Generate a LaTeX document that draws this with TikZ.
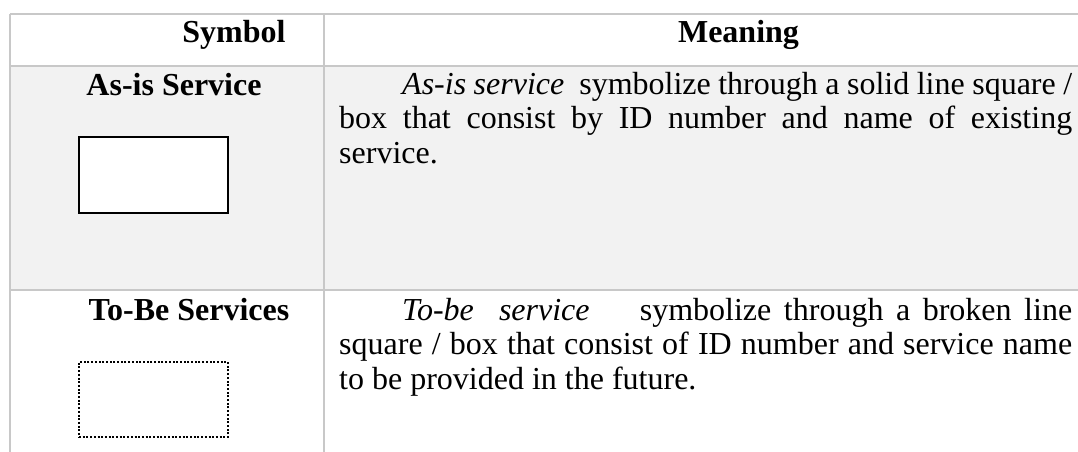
\documentclass[tikz,border=0pt]{standalone}
\usepackage{fontspec}
\setmainfont{Liberation Serif}
\definecolor{gridgray}{HTML}{C8C8C8}
\definecolor{rowgray}{HTML}{F2F2F2}
\tikzset{
  grid line/.style={draw=gridgray, line width=1.3pt},
  head/.style={font=\fontsize{32pt}{35pt}\selectfont\bfseries, inner sep=0pt, anchor=base},
  body/.style={font=\fontsize{32pt}{34.5pt}\selectfont, inner sep=0pt, anchor=base west, text width=733pt, align=justify},
  asisbox/.style={draw=black, fill=white, line width=1.7pt, minimum width=149pt, minimum height=76pt, inner sep=0pt},
  tobebox/.style={draw=black, fill=white, line width=1.7pt, dash pattern=on 2pt off 1.7pt, minimum width=149pt, minimum height=75pt, inner sep=0pt}
}
\begin{document}
\begin{tikzpicture}[x=1pt,y=-1pt]
\useasboundingbox[fill=white] (0,0) rectangle (1078,452);
% row background
\fill[rowgray] (10,66) rectangle (1078,290);
% grid
\coordinate (tl) at (10,14);
\coordinate (tr) at (1078,14);
\coordinate (h1l) at (10,66);
\coordinate (h1r) at (1078,66);
\coordinate (h2l) at (10,290);
\coordinate (h2r) at (1078,290);
\coordinate (bl) at (10,452);
\coordinate (dt) at (324,14);
\coordinate (db) at (324,452);
\draw[grid line] (tl) -- (tr);
\draw[grid line] (h1l) -- (h1r);
\draw[grid line] (h2l) -- (h2r);
\draw[grid line] (tl) -- (bl);
\draw[grid line] (dt) -- (db);
% header
\node[head] (symhead) at (234,42.5) {Symbol};
\node[head] (meanhead) at (738.5,42) {Meaning};
% row 1
\node[head] (asislabel) at (174,95) {As-is Service};
\node[asisbox] (asis) at (153.5,175) {};
\node[body] (asistext) at (339,94) {\hspace*{63pt}\textit{As-is service}\ \ symbolize through a solid line square /\linebreak box that consist by ID number and name of existing\linebreak service.};
% row 2
\node[head] (tobelabel) at (189,320) {To-Be Services};
\node[tobebox] (tobe) at (153.5,399.5) {};
\node[body] (tobetext) at (339,320) {\hspace*{63pt}\textit{To-be\ \ service}\ \ \ \ symbolize through a broken line\linebreak square / box that consist of ID number and service name\linebreak to be provided in the future.};
\end{tikzpicture}
\end{document}
